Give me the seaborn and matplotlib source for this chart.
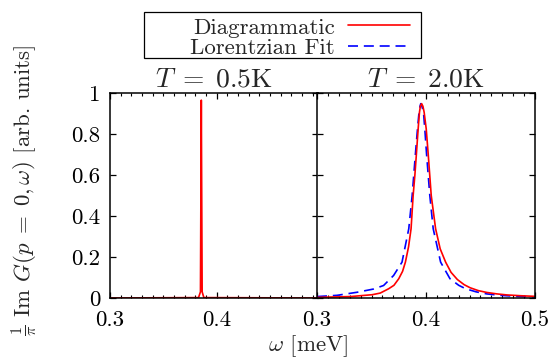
import numpy as np
import pandas as pd
import matplotlib
matplotlib.use("Agg")
import matplotlib.pyplot as plt
from matplotlib.ticker import MultipleLocator, FixedLocator, FixedFormatter
from matplotlib.patches import Rectangle
import seaborn as sns

# ---------------- data ----------------
# T = 0.5 K : diagrammatic spectral function (very sharp peak)
w_low = [0.300, 0.3830, 0.3848, 0.3853, 0.3856, 0.3859, 0.3864, 0.3880, 0.495]
g_low = [0.000, 0.002, 0.030, 0.600, 0.965, 0.600, 0.030, 0.002, 0.000]

# T = 2.0 K : diagrammatic result
w_diag = [0.300, 0.3150, 0.3307, 0.3506, 0.3580, 0.3657, 0.3706, 0.3750, 0.3785,
          0.3811, 0.3840, 0.3863, 0.3882, 0.3898, 0.3912, 0.3928, 0.3940, 0.3948,
          0.3960, 0.3972, 0.3983, 0.4002, 0.4020, 0.4048, 0.4088, 0.4130, 0.4180,
          0.4230, 0.4288, 0.4350, 0.4405, 0.4480, 0.4558, 0.4650, 0.4742, 0.4870,
          0.5000]
g_diag = [0.003, 0.005, 0.007, 0.016, 0.024, 0.045, 0.062, 0.094, 0.130,
          0.175, 0.250, 0.338, 0.500, 0.600, 0.703, 0.825, 0.906, 0.935,
          0.948, 0.935, 0.906, 0.825, 0.703, 0.500, 0.338, 0.240, 0.175,
          0.125, 0.090, 0.065, 0.050, 0.036, 0.027, 0.020, 0.015, 0.011,
          0.008]

# T = 2.0 K : Lorentzian fit
w_fit = [0.300, 0.3184, 0.3368, 0.3521, 0.3611, 0.3703, 0.3780, 0.3842, 0.3873,
         0.3903, 0.3922, 0.3935, 0.3945, 0.3952, 0.3960, 0.3977, 0.3989, 0.4005,
         0.4035, 0.4066, 0.4134, 0.4220, 0.4300, 0.4364, 0.4460, 0.4558, 0.4680,
         0.4804, 0.5000]
g_fit = [0.007, 0.013, 0.028, 0.044, 0.061, 0.110, 0.175, 0.338, 0.500,
         0.703, 0.825, 0.900, 0.935, 0.948, 0.940, 0.906, 0.825, 0.703,
         0.500, 0.338, 0.175, 0.094, 0.062, 0.045, 0.030, 0.020, 0.013,
         0.009, 0.005]

titles = [r"$T\;=\;0.5$K", r"$T\;=\;2.0$K"]
labels = ["Diagrammatic", "Lorentzian Fit"]
yticks = [0, 0.2, 0.4, 0.6, 0.8, 1.0]
yticklabels = ["0", "0.2", "0.4", "0.6", "0.8", "1"]
xticks_left = [0.3, 0.4]
xticks_right = [0.3, 0.4, 0.5]
xticklabels_left = ["0.3", "0.4"]
xticklabels_right = ["0.3", "0.4", "0.5"]

# ---------------- style ----------------
sns.set_style("ticks")
plt.rcParams.update({
    "font.family": ["cmr10", "DejaVu Serif"],
    "mathtext.fontset": "cm",
    "axes.formatter.use_mathtext": True,
    "font.size": 16.5,
    "axes.linewidth": 1.1,
    "axes.edgecolor": "black",
    "xtick.direction": "in",
    "ytick.direction": "in",
    "xtick.top": True,
    "ytick.right": True,
    "xtick.major.size": 4.5,
    "ytick.major.size": 4.5,
    "xtick.minor.size": 2.2,
    "xtick.major.width": 0.9,
    "ytick.major.width": 0.9,
    "xtick.minor.width": 0.8,
    "xtick.color": "black",
    "ytick.color": "black",
})

W, H = 556, 358
fig = plt.figure(figsize=(W / 100, H / 100), dpi=100)
axL = fig.add_axes([110 / W, (H - 298) / H, 208 / W, 205 / H])
axR = fig.add_axes([317 / W, (H - 298) / H, 218 / W, 205 / H])

df_low = pd.DataFrame({"w": w_low, "g": g_low})
df_diag = pd.DataFrame({"w": w_diag, "g": g_diag})
df_fit = pd.DataFrame({"w": w_fit, "g": g_fit})

sns.lineplot(data=df_low, x="w", y="g", ax=axL, color="#ff0000", lw=1.2,
             estimator=None, sort=False)
sns.lineplot(data=df_fit, x="w", y="g", ax=axR, color="#0000ff", lw=1.2,
             estimator=None, sort=False)
fit_line = axR.lines[-1]
fit_line.set_dashes((6, 3.5))
sns.lineplot(data=df_diag, x="w", y="g", ax=axR, color="#ff0000", lw=1.2,
             estimator=None, sort=False)
diag_line = axR.lines[-1]

for ax, xt, xtl, xl in [(axL, xticks_left, xticklabels_left, (0.3, 0.495)),
                        (axR, xticks_right, xticklabels_right, (0.3, 0.5))]:
    ax.set_xlim(*xl)
    ax.set_ylim(0, 1)
    ax.xaxis.set_major_locator(FixedLocator(xt))
    ax.xaxis.set_major_formatter(FixedFormatter(xtl))
    ax.xaxis.set_minor_locator(MultipleLocator(0.01))
    ax.yaxis.set_major_locator(FixedLocator(yticks))
    ax.set_xlabel("")
    ax.set_ylabel("")
    ax.tick_params(axis="x", which="both", pad=9)
    ax.tick_params(axis="y", pad=7)
    for s in ax.spines.values():
        s.set_visible(True)
        s.set_color("black")

axL.yaxis.set_major_formatter(FixedFormatter(yticklabels))
axR.tick_params(axis="y", labelleft=False)

axL.set_title(titles[0], pad=5)
axR.set_title(titles[1], pad=5)

axL.set_ylabel(r"$\frac{1}{\pi}$ Im $G(p\;=\;0,\omega)$ [arb. units]")
axL.yaxis.set_label_coords((25 - 110) / 208, (298 - 190) / 205)
axL.yaxis.label.set_va("center")

axL.set_xlabel(r"$\omega$ [meV]")
axL.xaxis.set_label_coords((308 - 110) / 208, (298 - 346) / 205)
axL.xaxis.label.set_va("center")

# legend (gnuplot-style key above the panels)
leg = fig.legend([diag_line, fit_line], labels, loc="center",
                 bbox_to_anchor=(300 / W, 1 - 37.5 / H), markerfirst=False,
                 frameon=False, labelspacing=0.0, borderpad=0.0,
                 handlelength=2.7, handletextpad=0.6, fontsize=16.5)
fig.patches.append(Rectangle((144 / W, 1 - 58 / H), 277 / W, 46 / H,
                             transform=fig.transFigure, fill=False,
                             edgecolor="black", lw=0.9))

fig.savefig("out.png", dpi=100)
